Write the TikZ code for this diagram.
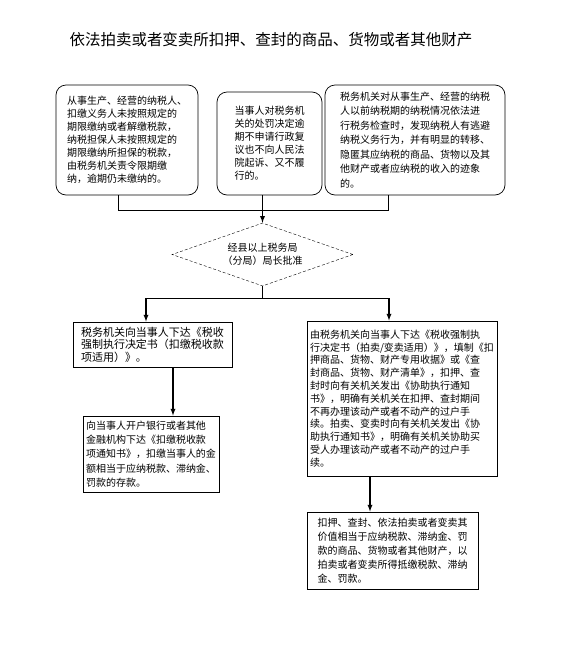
\documentclass[tikz,border=0pt]{standalone}
\usepackage{fontspec}
\setmainfont{Noto Sans CJK SC}
\usetikzlibrary{shapes.geometric}
\begin{document}
\begin{tikzpicture}[x=1pt,y=-1pt,font=\fontsize{10}{13}\selectfont,
  cond/.style={draw,line width=0.7pt,rounded corners=10pt,align=left,inner sep=0pt},
  act/.style={draw,line width=1pt,align=left,inner sep=0pt},
  flow/.style={-latex,line width=1.3pt}]
\useasboundingbox (0,0) rectangle (581,670);
\node (title) at (271,40) {\fontsize{15.5}{18}\selectfont 依法拍卖或者变卖所扣押、查封的商品、货物或者其他财产};
% conditions
\node[cond,minimum width=142pt,minimum height=110pt] (c1) at (127,140) {从事生产、经营的纳税人、\\扣缴义务人未按照规定的\\期限缴纳或者解缴税款，\\纳税担保人未按照规定的\\期限缴纳所担保的税款，\\由税务机关责令限期缴\\纳，逾期仍未缴纳的。};
\node[cond,minimum width=105pt,minimum height=103pt] (c2) at (269.5,143.5) {当事人对税务机\\关的处罚决定逾\\期不申请行政复\\议也不向人民法\\院起诉、又不履\\行的。};
\node[cond,minimum width=180pt,minimum height=110pt,font=\fontsize{10}{14.5}\selectfont] (c3) at (415,140) {税务机关对从事生产、经营的纳税\\人以前纳税期的纳税情况依法进\\行税务检查时，发现纳税人有逃避\\纳税义务行为，并有明显的转移、\\隐匿其应纳税的商品、货物以及其\\他财产或者应纳税的收入的迹象\\的。};
\node[draw,diamond,dash pattern=on 3pt off 2pt,aspect=2.87,minimum width=181pt,minimum height=63pt,inner sep=0pt,align=center] (ok) at (262.5,254.5) {经县以上税务局\\（分局）局长批准};
% actions
\node[act,minimum width=159pt,minimum height=45pt,font=\fontsize{11}{12.5}\selectfont] (l1) at (152.5,344.5) {税务机关向当事人下达《税收\\强制执行决定书（扣缴税收款\\项适用）》。};
\node[act,minimum width=136pt,minimum height=76pt,font=\fontsize{10}{14.2}\selectfont] (l2) at (151,454) {向当事人开户银行或者其他\\金融机构下达《扣缴税收款\\项通知书》，扣缴当事人的金\\额相当于应纳税款、滞纳金、\\罚款的存款。};
\node[act,minimum width=190pt,minimum height=155pt,font=\fontsize{10}{12.8}\selectfont] (r1) at (402,398.5) {由税务机关向当事人下达《税收强制执\\行决定书（拍卖/变卖适用）》，填制《扣\\押商品、货物、财产专用收据》或《查\\封商品、货物、财产清单》，扣押、查\\封时向有关机关发出《协助执行通知\\书》，明确有关机关在扣押、查封期间\\不再办理该动产或者不动产的过户手\\续。拍卖、变卖时向有关机关发出《协\\助执行通知书》，明确有关机关协助买\\受人办理该动产或者不动产的过户手\\续。};
\node[act,minimum width=171pt,minimum height=77pt,font=\fontsize{10}{14}\selectfont] (r2) at (392.5,550.5) {扣押、查封、依法拍卖或者变卖其\\价值相当于应纳税款、滞纳金、罚\\款的商品、货物或者其他财产，以\\拍卖或者变卖所得抵缴税款、滞纳\\金、罚款。};
% joins
\coordinate (jl) at (118,210);
\coordinate (jm) at (262.5,210);
\coordinate (jr) at (388,210);
\coordinate (sl) at (146,298);
\coordinate (sr) at (389,298);
\coordinate (al) at (173,390);
\coordinate (ar) at (370,490);
\draw (c1.south -| jl) -- (jl) -- (jr) -- (c3.south -| jr);
\draw (c2.south -| jm) -- (jm);
\draw[flow] (jm) -- (ok.north);
\draw (ok.south) -- (ok.south |- sl);
\draw (sl) -- (sr);
\draw[flow] (sl) -- (l1.north -| sl);
\draw[flow] (sr) -- (r1.north -| sr);
\draw[flow] (l1.south -| al) -- (l2.north -| al);
\draw[flow] (r1.south -| ar) -- (r2.north -| ar);
\end{tikzpicture}
\end{document}
